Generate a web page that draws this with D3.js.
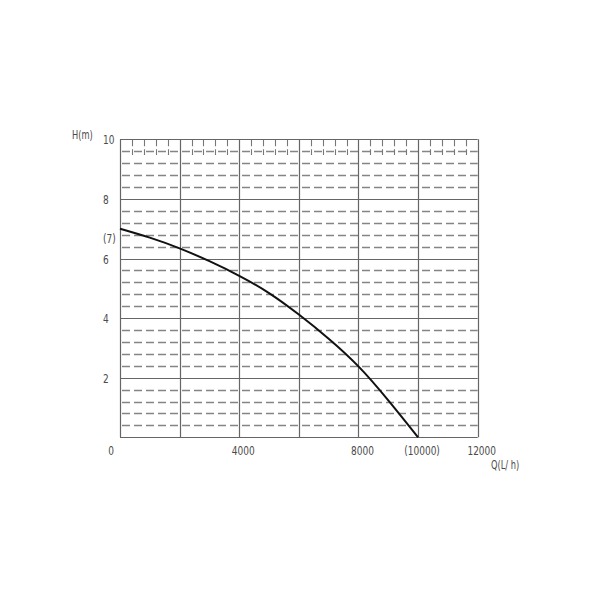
<!DOCTYPE html>
<html><head><meta charset="utf-8">
<script src="https://cdn.jsdelivr.net/npm/d3@7"></script>
<style>
html,body{margin:0;padding:0;background:#fff;}
text{font-family:"DejaVu Sans Condensed","DejaVu Sans",sans-serif;fill:#4a4a4a;}
</style></head>
<body><svg id="c" width="600" height="600"></svg>
<script>
// ---- data ----
const flowQ = [0, 1000, 2000, 3000, 4000, 5000, 6000, 7000, 8000, 9000, 10000];
const headH = [7.0, 6.70, 6.34, 5.91, 5.42, 4.84, 4.12, 3.31, 2.38, 1.24, 0];
const xTickValues = [4000, 8000, 12000];
const yTickValues = [2, 4, 6, 8, 10];
const xLabel = "Q(L/ h)";
const yLabel = "H(m)";
const shutoffHead = 7;      // shown as "(7)"
const maxFlow = 10000;      // shown as "(10000)"

const svg = d3.select("#c");
const x = d3.scaleLinear().domain([0, 12000]).range([120, 477.7]);
const y = d3.scaleLinear().domain([0, 10]).range([437.3, 139.3]);

const g = svg.append("g");

// dashed minor horizontal lines every 0.4 m
const minorH = d3.range(0.4, 10, 0.4).filter(v => Math.abs(v/2 - Math.round(v/2)) > 1e-6);
g.selectAll("line.mh").data(minorH).join("line")
  .attr("x1", x(0)).attr("x2", x(12000))
  .attr("y1", d => Math.round(y(d)) + 0.5).attr("y2", d => Math.round(y(d)) + 0.5)
  .attr("stroke", "#858585").attr("stroke-width", 1.4)
  .attr("stroke-dasharray", "8,4").attr("stroke-dashoffset", -2);

// short vertical ticks along the top row every 400 L/h
const topTicks = d3.range(400, 12000, 400).filter(v => v % 2000 !== 0);
g.selectAll("line.tt").data(topTicks).join("line")
  .attr("x1", d => Math.round(x(d)) + 0.5).attr("x2", d => Math.round(x(d)) + 0.5)
  .attr("y1", y(10)).attr("y2", y(9.47))
  .attr("stroke", "#777").attr("stroke-width", 1.1)
  .attr("stroke-dasharray", "7,3");

// solid major grid
const majorX = d3.range(0, 12001, 2000);
const majorY = d3.range(0, 10.01, 2);
g.selectAll("line.vx").data(majorX).join("line")
  .attr("x1", d => Math.round(x(d)) + 0.5).attr("x2", d => Math.round(x(d)) + 0.5)
  .attr("y1", y(0)).attr("y2", y(10))
  .attr("stroke", "#666").attr("stroke-width", 1.2);
g.selectAll("line.hy").data(majorY).join("line")
  .attr("x1", x(0)).attr("x2", x(12000))
  .attr("y1", d => Math.round(y(d)) + 0.5).attr("y2", d => Math.round(y(d)) + 0.5)
  .attr("stroke", "#666").attr("stroke-width", 1.2);

// curve
const pts = flowQ.map((q, i) => [q, headH[i]]);
g.append("path").datum(pts)
  .attr("fill", "none").attr("stroke", "#111").attr("stroke-width", 2)
  .attr("d", d3.line().x(d => x(d[0])).y(d => y(d[1])).curve(d3.curveNatural));

// narrow text helper
const fs = 12.5, sx = 0.8;
function label(px, py, txt, anchor, size) {
  g.append("text")
    .attr("transform", `translate(${px},${py}) scale(${sx},1)`)
    .attr("text-anchor", anchor || "start")
    .attr("font-size", size || fs).text(txt);
}
yTickValues.forEach(v => label(103, y(v) + 5, v));
label(103, y(shutoffHead) + 14.5, "(" + shutoffHead + ")");
label(111, y(0) + 18, "0", "middle");
xTickValues.forEach(v => label(x(v) + 4, y(0) + 18, v, "middle"));
label(x(maxFlow) + 4, y(0) + 18, "(" + maxFlow + ")", "middle");
label(72, 139, yLabel, "start", 11.5);
label(491, 469, xLabel, "start", 11.5);
</script></body></html>
